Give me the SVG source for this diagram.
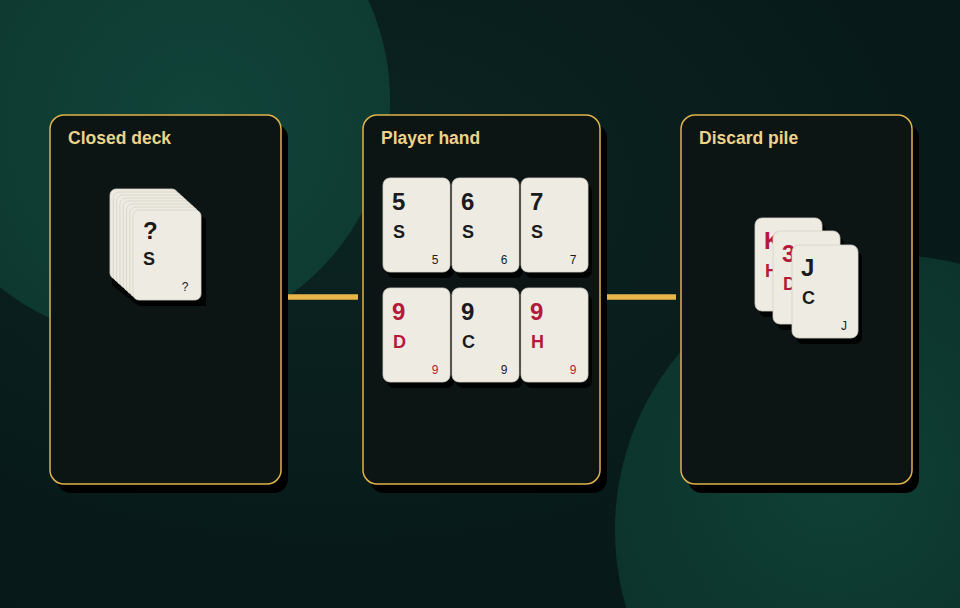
<svg xmlns="http://www.w3.org/2000/svg" width="960" height="608" viewBox="0 0 960 608">
<defs>
<radialGradient id="bgg" cx="0.35" cy="0.3" r="0.9">
<stop offset="0" stop-color="#0b2422"/>
<stop offset="1" stop-color="#061616"/>
</radialGradient>
<radialGradient id="c1" cx="0.6" cy="0.55" r="0.6">
<stop offset="0" stop-color="#11443a"/>
<stop offset="1" stop-color="#0d372f"/>
</radialGradient>
<radialGradient id="c2" cx="0.4" cy="0.4" r="0.6">
<stop offset="0" stop-color="#0f4035"/>
<stop offset="1" stop-color="#0b2f29"/>
</radialGradient>
<style>
.panel{fill:#0c1414;stroke:#e0b24a;stroke-width:1.5}
.pshadow{fill:#000}
.title{font-family:"Liberation Sans",Arial,sans-serif;font-weight:bold;font-size:17.5px;fill:#ecd38c}
.card{fill:#eeebe2;stroke:#d6d2c8;stroke-width:0.8}
.cshadow{fill:#000;opacity:0.9}
.rank{font-family:"Liberation Sans",Arial,sans-serif;font-weight:bold;font-size:24px}
.suit{font-family:"Liberation Sans",Arial,sans-serif;font-weight:bold;font-size:18px}
.corner{font-family:"Liberation Sans",Arial,sans-serif;font-size:12px}
.blk{fill:#1b1b1d}
.red{fill:#b3193a}
.conn{stroke:#e8b54a;stroke-width:5.5;fill:none}
</style>
</defs>
<rect x="0" y="0" width="960" height="608" fill="url(#bgg)"/>
<circle cx="150" cy="100" r="240" fill="url(#c1)"/>
<circle cx="890" cy="530" r="275" fill="url(#c2)"/>

<g id="connectors">
<line class="conn" x1="286" y1="297" x2="358" y2="297"/>
<line class="conn" x1="601" y1="297" x2="676" y2="297"/>
</g>

<g id="closed-deck">
<rect class="pshadow" x="57" y="124" width="231" height="369" rx="14"/>
<rect class="panel" x="50" y="115" width="231" height="369" rx="14"/>
<text class="title" x="68" y="144">Closed deck</text>
<path d="M112 195 L170 195 L206 219 L206 306 L139 306 L112 285 Z" class="cshadow"/>
<rect class="card" x="110" y="189" width="68" height="90" rx="6"/>
<rect class="card" x="113.3" y="192" width="68" height="90" rx="6"/>
<rect class="card" x="116.6" y="195" width="68" height="90" rx="6"/>
<rect class="card" x="119.9" y="198" width="68" height="90" rx="6"/>
<rect class="card" x="123.2" y="201" width="68" height="90" rx="6"/>
<rect class="card" x="126.5" y="204" width="68" height="90" rx="6"/>
<rect class="card" x="129.8" y="207" width="68" height="90" rx="6"/>
<rect class="card" x="133" y="210" width="68" height="90" rx="6"/>
<text class="rank blk" x="143" y="239">?</text>
<text class="suit blk" x="143" y="265">S</text>
<text class="corner blk" x="185" y="291" text-anchor="middle">?</text>
</g>

<g id="player-hand">
<rect class="pshadow" x="370" y="124" width="237" height="369" rx="14"/>
<rect class="panel" x="363" y="115" width="237" height="369" rx="14"/>
<text class="title" x="381" y="144">Player hand</text>
<g id="card-5s">
<rect class="cshadow" x="387" y="184" width="67" height="94" rx="7"/>
<rect class="card" x="383" y="178" width="67" height="94" rx="7"/>
<text class="rank blk" x="392" y="210">5</text>
<text class="suit blk" x="393" y="238">S</text>
<text class="corner blk" x="435" y="264" text-anchor="middle">5</text>
</g>
<g id="card-6s">
<rect class="cshadow" x="456" y="184" width="67" height="94" rx="7"/>
<rect class="card" x="452" y="178" width="67" height="94" rx="7"/>
<text class="rank blk" x="461" y="210">6</text>
<text class="suit blk" x="462" y="238">S</text>
<text class="corner blk" x="504" y="264" text-anchor="middle">6</text>
</g>
<g id="card-7s">
<rect class="cshadow" x="525" y="184" width="67" height="94" rx="7"/>
<rect class="card" x="521" y="178" width="67" height="94" rx="7"/>
<text class="rank blk" x="530" y="210">7</text>
<text class="suit blk" x="531" y="238">S</text>
<text class="corner blk" x="573" y="264" text-anchor="middle">7</text>
</g>
<g id="card-9d">
<rect class="cshadow" x="387" y="294" width="67" height="94" rx="7"/>
<rect class="card" x="383" y="288" width="67" height="94" rx="7"/>
<text class="rank red" x="392" y="320">9</text>
<text class="suit red" x="393" y="348">D</text>
<text class="corner red" x="435" y="374" text-anchor="middle">9</text>
</g>
<g id="card-9c">
<rect class="cshadow" x="456" y="294" width="67" height="94" rx="7"/>
<rect class="card" x="452" y="288" width="67" height="94" rx="7"/>
<text class="rank blk" x="461" y="320">9</text>
<text class="suit blk" x="462" y="348">C</text>
<text class="corner blk" x="504" y="374" text-anchor="middle">9</text>
</g>
<g id="card-9h">
<rect class="cshadow" x="525" y="294" width="67" height="94" rx="7"/>
<rect class="card" x="521" y="288" width="67" height="94" rx="7"/>
<text class="rank red" x="530" y="320">9</text>
<text class="suit red" x="531" y="348">H</text>
<text class="corner red" x="573" y="374" text-anchor="middle">9</text>
</g>
</g>

<g id="discard-pile">
<rect class="pshadow" x="688" y="124" width="231" height="369" rx="14"/>
<rect class="panel" x="681" y="115" width="231" height="369" rx="14"/>
<text class="title" x="699" y="144">Discard pile</text>
<g id="card-kh">
<rect class="cshadow" x="759" y="224" width="67" height="93" rx="7"/>
<rect class="card" x="755" y="218" width="67" height="93" rx="7"/>
<text class="rank red" x="764" y="249">K</text>
<text class="suit red" x="765" y="277">H</text>
</g>
<g id="card-3d">
<rect class="cshadow" x="777" y="237" width="67" height="93" rx="7"/>
<rect class="card" x="773" y="231" width="67" height="93" rx="7"/>
<text class="rank red" x="782" y="262">3</text>
<text class="suit red" x="783" y="290">D</text>
</g>
<g id="card-jc">
<rect class="cshadow" x="796" y="251" width="66" height="93" rx="7"/>
<rect class="card" x="792" y="245" width="66" height="93" rx="7"/>
<text class="rank blk" x="801" y="276">J</text>
<text class="suit blk" x="802" y="304">C</text>
<text class="corner blk" x="844" y="330" text-anchor="middle">J</text>
</g>
</g>
</svg>
